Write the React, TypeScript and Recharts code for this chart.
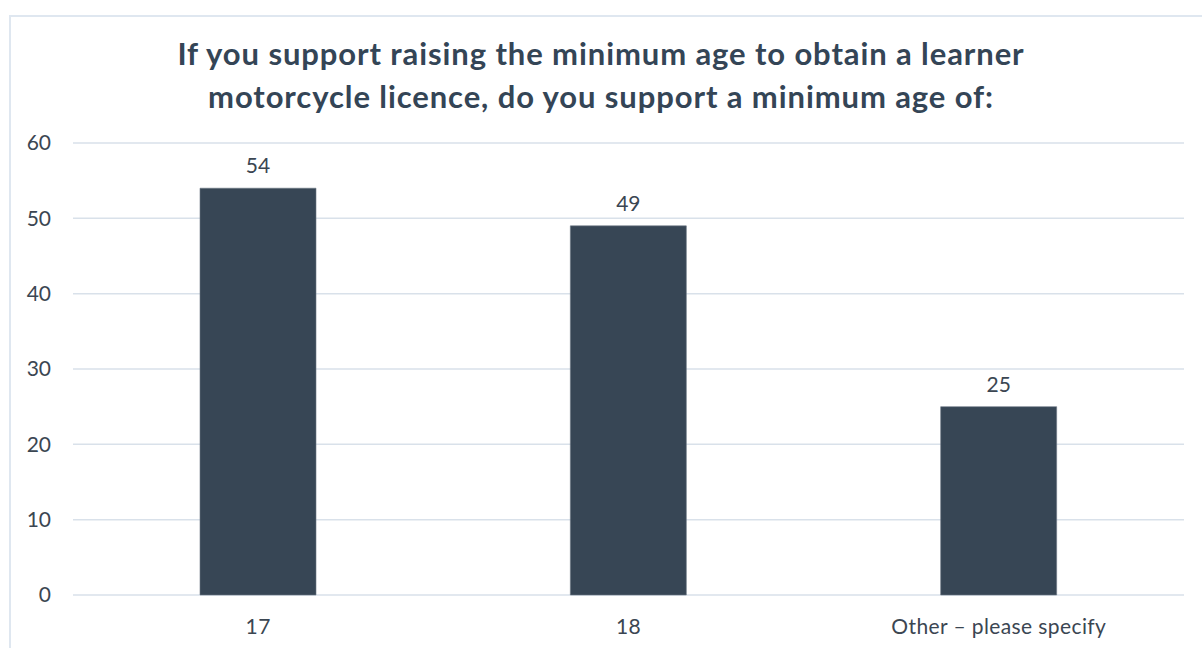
import { BarChart, Bar, XAxis, YAxis, CartesianGrid, LabelList } from 'recharts'

const CATEGORIES = ['17', '18', 'Other – please specify']
const VALUES = [54, 49, 25]
const Y_TICKS = [0, 10, 20, 30, 40, 50, 60]

const TITLE_LINES = [
  'If you support raising the minimum age to obtain a learner',
  'motorcycle licence, do you support a minimum age of:',
]

const data = CATEGORIES.map((name, i) => ({ name, value: VALUES[i] }))

const TEXT = '#3b4652'
const GRID = '#d9e1ea'
const FONT = 'Lato, sans-serif'

export default function App() {
  return (
    <div style={{ position: 'absolute', left: 0, top: 0, width: 1202, height: 648, background: '#fff', overflow: 'hidden' }}>
      {/* chart frame, runs off the right and bottom of the picture */}
      <div
        style={{
          position: 'absolute',
          left: 9,
          top: 15,
          width: 1240,
          height: 700,
          border: '2px solid #dfe7f0',
        }}
      />
      <div
        style={{
          position: 'absolute',
          left: 0,
          top: 32,
          width: 1202,
          textAlign: 'center',
          fontFamily: FONT,
          fontWeight: 700,
          fontSize: 31,
          letterSpacing: 0.9,
          lineHeight: '43px',
          color: '#344556',
        }}
      >
        {TITLE_LINES.map((t) => (
          <div key={t}>{t}</div>
        ))}
      </div>
      <div style={{ position: 'absolute', left: 0, top: 0 }}>
        <BarChart width={1202} height={648} data={data} margin={{ top: 143, right: 18, left: 0, bottom: 0 }}>
          <CartesianGrid vertical={false} stroke={GRID} strokeWidth={1.5} />
          <XAxis
            dataKey="name"
            axisLine={false}
            tickLine={false}
            tickSize={0}
            tickMargin={24}
            height={53}
            tick={{ fill: TEXT, fontSize: 21, fontFamily: FONT, letterSpacing: 0.4 }}
          />
          <YAxis
            domain={[0, 60]}
            ticks={Y_TICKS}
            axisLine={false}
            tickLine={false}
            tickSize={0}
            tickMargin={22}
            width={73}
            tick={{ fill: TEXT, fontSize: 21, fontFamily: FONT }}
          />
          <Bar dataKey="value" fill="#374655" stroke="#6b7785" strokeWidth={0.6} barSize={116} isAnimationActive={false}>
            <LabelList dataKey="value" position="top" offset={15} fill={TEXT} fontSize={21} fontFamily={FONT} />
          </Bar>
        </BarChart>
      </div>
    </div>
  )
}
